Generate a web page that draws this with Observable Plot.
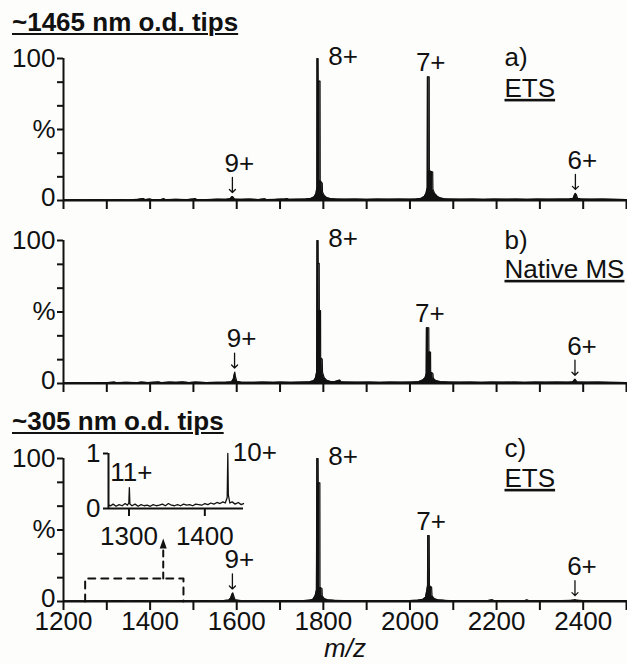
<!DOCTYPE html>
<html><head><meta charset="utf-8">
<script src="https://cdn.jsdelivr.net/npm/d3@7"></script>
<script src="https://cdn.jsdelivr.net/npm/@observablehq/plot@0.6"></script>
<style>
html,body{margin:0;padding:0;background:#fdfdfb;}
#fig{position:relative;width:627px;height:664px;overflow:hidden;font-family:"Liberation Sans",Arial,sans-serif;color:#111;}
.title{position:absolute;left:12px;font-weight:bold;font-size:26px;line-height:26px;text-decoration:underline;text-decoration-thickness:2px;text-underline-offset:2px;white-space:nowrap;}
</style></head><body><div id="fig"></div>
<script>
// ---------- data ----------
const titles = ["~1465 nm o.d. tips", "~305 nm o.d. tips"];
const tags = ["a)", "b)", "c)"];
const methods = ["ETS", "Native MS", "ETS"];
const xTicks = [1200,1300,1400,1500,1600,1700,1800,1900,2000,2100,2200,2300,2400,2500];
const xLabels = [1200,1400,1600,1800,2000,2200,2400];
const yTicks = [0,16.67,33.33,50,66.67,83.33,100];
const yTickLabels = ["0","","","%","","","100"];
const charges = ["9+","8+","7+","6+"];
const peakMzA = [1590,1786,2041,2382];
const peakHA  = [2.8,100,87,5];
const peakMzB = [1595,1786,2039,2381];
const peakHB  = [8,100,39,3];
const peakMzC = [1590,1786,2042,2381];
const peakHC  = [6,100,46,1.3];

const spectrumA = [[1200,0.4],[1225,0.6],[1250,0.5],[1275,0.7],[1300,0.5],[1325,0.6],[1350,0.5],[1372,0.8],[1385,1.4],[1388,0.6],[1400,1.1],[1404,0.6],[1425,0.7],[1432,1.3],[1436,0.6],[1460,0.8],[1485,0.6],[1500,1.1],[1504,1.3],[1508,0.7],[1530,0.6],[1555,0.9],[1575,0.8],[1585,1.3],[1588,2.4],[1590,2.8],[1592,2.2],[1595,1.0],[1610,0.8],[1630,1.0],[1650,0.7],[1665,1.2],[1668,0.7],[1690,0.8],[1712,1.1],[1716,1.4],[1720,0.8],[1740,0.9],[1760,1.1],[1772,1.6],[1779,2.6],[1783,5],[1785,9],[1785.3,100],[1788,100],[1788.3,84],[1792.4,84],[1792.8,14],[1797.6,12],[1798,6],[1802,3.5],[1808,2],[1816,1.4],[1830,1.0],[1850,0.9],[1875,1.0],[1900,0.8],[1925,1.0],[1950,0.9],[1975,1.0],[2000,0.9],[2015,1.1],[2026,1.6],[2033,2.8],[2037,5],[2039.8,9],[2040.3,87],[2044.5,87],[2044.8,21],[2052.5,20],[2053,8],[2057,5],[2063,3],[2070,1.8],[2080,1.2],[2095,1.0],[2120,0.9],[2145,1.0],[2170,0.8],[2195,1.0],[2220,0.9],[2245,1.0],[2270,0.8],[2295,1.0],[2320,0.9],[2345,1.0],[2368,1.1],[2377,1.6],[2380,4],[2382,5],[2384,4.2],[2387,1.6],[2395,1.0],[2420,0.9],[2445,1.0],[2470,0.8],[2500,0.7]];

const spectrumB = [[1200,0.4],[1225,0.6],[1250,0.5],[1275,0.7],[1300,0.6],[1318,1.0],[1322,0.6],[1345,0.8],[1370,0.6],[1380,1.0],[1395,0.7],[1420,1.1],[1425,0.6],[1445,1.0],[1460,0.8],[1475,1.1],[1490,0.7],[1505,1.0],[1530,0.7],[1555,0.8],[1575,0.9],[1588,1.2],[1592,3],[1594,6],[1595.5,8],[1597,5],[1600,1.5],[1610,0.9],[1635,0.8],[1660,1.0],[1685,0.8],[1700,1.0],[1725,0.8],[1750,1.0],[1768,1.2],[1778,2],[1782,4],[1784.5,8],[1785.3,100],[1788,100],[1788.3,84],[1790.5,84],[1790.8,51],[1793.5,51],[1793.8,18],[1797.5,17],[1798,8],[1802,4],[1808,2.2],[1815,1.5],[1825,1.2],[1838,2.4],[1841,1.2],[1855,1.0],[1880,0.9],[1905,1.0],[1930,0.8],[1955,1.0],[1980,0.9],[2005,1.0],[2020,1.3],[2030,2.5],[2035,4],[2037.5,7],[2038,39],[2043.5,39],[2043.8,22],[2047.5,22],[2047.8,8],[2053,7],[2054,3.5],[2060,2],[2070,1.3],[2090,1.0],[2115,0.9],[2140,1.0],[2165,0.8],[2190,1.0],[2215,0.9],[2240,1.0],[2265,0.8],[2290,1.0],[2315,0.9],[2340,1.0],[2365,0.9],[2376,1.2],[2379,2.2],[2381,3],[2383,2.2],[2386,1.0],[2410,0.9],[2435,1.0],[2460,0.8],[2500,0.7]];

const spectrumC = [[1200,0.4],[1225,0.5],[1250,0.4],[1275,0.6],[1300,0.5],[1325,0.6],[1350,0.5],[1375,0.6],[1400,0.5],[1425,0.7],[1450,0.5],[1475,0.6],[1500,0.5],[1525,0.6],[1550,0.5],[1570,0.7],[1582,1.0],[1586,2.5],[1589,5],[1591,6],[1593,4],[1596,1.2],[1610,0.6],[1635,0.5],[1660,0.6],[1685,0.5],[1710,0.6],[1735,0.6],[1755,0.7],[1768,0.9],[1776,1.6],[1781,4],[1784,8],[1785,100],[1788,100],[1788.3,83],[1792,83],[1792.3,10],[1797,9],[1797.5,4],[1802,2],[1810,1.2],[1825,0.8],[1850,0.7],[1875,0.6],[1900,0.7],[1925,0.6],[1950,0.7],[1975,0.6],[2000,0.7],[2018,0.9],[2030,1.5],[2036,3],[2039,8],[2040.5,11],[2041,46],[2044.5,46],[2045,11],[2050,10],[2051,4],[2056,2],[2064,1.2],[2080,0.8],[2105,0.6],[2130,0.7],[2155,0.6],[2180,0.7],[2190,1.2],[2194,0.7],[2215,0.6],[2240,0.7],[2265,0.6],[2270,1.1],[2274,0.6],[2300,0.7],[2325,0.6],[2350,0.7],[2372,0.8],[2378,1.0],[2381,1.3],[2384,0.9],[2400,0.6],[2425,0.7],[2450,0.6],[2475,0.7],[2500,0.6]];

// inset (panel c, m/z 1273-1451)
const insetDomain = [1273,1451];
const insetXTicks = [1300,1400];
const insetYTicks = [0,1];
const insetCharges = ["11+","10+"];
const insetPeakMz = [1300.5,1430.3];
const insetPeakH = [0.38,1.0];
const insetSpectrum = [[1273,0.06],[1276,0.05],[1279,0.08],[1283,0.04],[1287,0.07],[1291,0.05],[1295,0.09],[1298,0.06],[1299.8,0.1],[1300.5,0.38],[1301.2,0.08],[1304,0.05],[1308,0.08],[1312,0.04],[1316,0.07],[1320,0.05],[1324,0.06],[1328,0.04],[1332,0.07],[1336,0.05],[1340,0.06],[1344,0.08],[1348,0.05],[1352,0.09],[1356,0.06],[1360,0.05],[1364,0.07],[1368,0.05],[1372,0.08],[1376,0.06],[1380,0.07],[1384,0.05],[1388,0.08],[1392,0.07],[1396,0.06],[1400,0.09],[1404,0.07],[1408,0.1],[1412,0.08],[1416,0.11],[1420,0.09],[1424,0.12],[1427,0.1],[1429.5,0.2],[1430.3,1.0],[1431,0.25],[1433,0.1],[1436,0.12],[1440,0.08],[1444,0.11],[1448,0.07],[1451,0.09]];
// zoom window marker in panel c
const zoomWindow = [1250,1477];
const zoomBoxTop = 16;
const zoomArrow = [16,37];   // dashed shaft; the head continues above

// ---------- drawing ----------
const fig = document.getElementById("fig");
const INK = "#111";
const FS = 26;
const baseStyle = {fontFamily:"'Liberation Sans', Arial, sans-serif", fontSize: FS + "px", background:"transparent", color:INK, overflow:"visible"};
function place(el, top, left = 0) {
  el.style.position = "absolute"; el.style.top = top + "px"; el.style.left = left + "px";
  fig.appendChild(el);
}
function underline(svg, words) {
  svg.querySelectorAll("text").forEach(t => {
    if (words.includes(t.textContent.trim())) { t.setAttribute("text-decoration", "underline"); t.style.textDecoration = "underline"; }
  });
}
const headShape = {draw(ctx, l) { ctx.moveTo(-3.5, 0); ctx.lineTo(0, -l); ctx.lineTo(3.5, 0); ctx.closePath(); }};

function makePanel(p) {
  const spec = p.spectrum.map(([mz, v]) => ({mz, v}));
  const peaks = charges.map((c, i) => ({charge: c, mz: p.mz[i], h: p.h[i]}));
  const arrowPeaks = peaks.filter(d => d.charge === "9+" || d.charge === "6+");
  const rightPk = peaks.filter(d => d.charge === "8+");
  const abovePk = peaks.filter(d => d.charge === "7+");
  const marks = [
    Plot.areaY(spec, {x: "mz", y: "v", fill: INK}),
    Plot.line(spec, {x: "mz", y: "v", stroke: INK, strokeWidth: 1.2}),
    Plot.ruleY([0], {stroke: INK, strokeWidth: 2}),
    Plot.ruleX([1200], {stroke: INK, strokeWidth: 2}),
    Plot.axisX(xTicks, {tickSize: 9, tickPadding: 1, strokeWidth: 2, stroke: INK, label: null,
      tickFormat: p.labeled ? (d => xLabels.includes(d) ? String(d) : "") : (() => "")}),
    // ticks plus the "%" and "100" labels
    Plot.axisY(yTicks, {tickSize: 6, tickPadding: 2, strokeWidth: 2, stroke: INK, label: null,
      tickFormat: d => (d === 0 ? "" : yTickLabels[yTicks.indexOf(d)])}),
    // the "0" label sits a little above its tick
    Plot.axisY([yTicks[0]], {tickSize: 0, tickPadding: 8, dy: -3, label: null,
      tickFormat: d => yTickLabels[yTicks.indexOf(d)]}),
    Plot.text(rightPk, {x: "mz", y: "h", text: "charge", textAnchor: "start", dx: 11, dy: -2, fontSize: FS}),
    Plot.text(abovePk, {x: "mz", y: "h", text: "charge", dx: 3, dy: -14, fontSize: FS}),
    Plot.text(arrowPeaks, {x: "mz", y: "h", text: "charge", dx: 7, dy: -33, fontSize: FS}),
    Plot.vector(arrowPeaks, {x: "mz", y: "h", length: 15, rotate: 180, anchor: "end", dy: -4, stroke: INK, strokeWidth: 1.3}),
    Plot.text([p.tag], {text: d => d, frameAnchor: "top-left", textAnchor: "start", lineAnchor: "middle", dx: 441, dy: p.tagDy, fontSize: FS}),
    Plot.text([p.method], {text: d => d, frameAnchor: "top-left", textAnchor: "start", lineAnchor: "middle", dx: 441, dy: p.methodDy, fontSize: FS})
  ];
  if (p.extra) marks.push(...p.extra);
  const svg = Plot.plot({
    width: 627, height: p.mt + p.inner + p.mb,
    marginLeft: 63, marginRight: 1, marginTop: p.mt, marginBottom: p.mb,
    x: {domain: [1200, 2500]}, y: {domain: [0, 100]},
    style: baseStyle,
    marks
  });
  underline(svg, methods);
  place(svg, p.top);
}

// titles
const t1 = document.createElement("div"); t1.className = "title"; t1.textContent = titles[0]; t1.style.top = "9px"; fig.appendChild(t1);
const t2 = document.createElement("div"); t2.className = "title"; t2.textContent = titles[1]; t2.style.top = "408px"; fig.appendChild(t2);

makePanel({spectrum: spectrumA, mz: peakMzA, h: peakHA, tag: tags[0], method: methods[0],
  top: 30, mt: 28, inner: 142, mb: 20, labeled: false, tagDy: -1, methodDy: 30});
makePanel({spectrum: spectrumB, mz: peakMzB, h: peakHB, tag: tags[1], method: methods[1],
  top: 215, mt: 25, inner: 143, mb: 17, labeled: false, tagDy: 0, methodDy: 29});

const boxPts = [[zoomWindow[0],0],[zoomWindow[0],zoomBoxTop],[zoomWindow[1],zoomBoxTop],[zoomWindow[1],0]].map(([mz,v]) => ({mz, v}));
const arrowX = insetPeakMz[1];
makePanel({spectrum: spectrumC, mz: peakMzC, h: peakHC, tag: tags[2], method: methods[2],
  top: 436, mt: 22, inner: 143, mb: 63, labeled: true, tagDy: -10, methodDy: 20,
  extra: [
    Plot.line(boxPts, {x: "mz", y: "v", stroke: INK, strokeWidth: 2, strokeDasharray: "7,6"}),
    Plot.line(zoomArrow.map(v => ({mz: arrowX, v})), {x: "mz", y: "v", stroke: INK, strokeWidth: 2, strokeDasharray: "6,5"}),
    Plot.vector([{mz: arrowX, v: zoomArrow[1]}], {x: "mz", y: "v", length: 10, rotate: 0, anchor: "start", shape: headShape, fill: INK, stroke: "none"}),
    Plot.text(["m/z"], {text: d => d, frameAnchor: "bottom", lineAnchor: "middle", dy: 47, fontStyle: "italic", fontSize: FS})
  ]});

// inset
{
  const spec = insetSpectrum.map(([mz, v]) => ({mz, v}));
  const pk = insetCharges.map((c, i) => ({charge: c, mz: insetPeakMz[i], h: insetPeakH[i]}));
  const svg = Plot.plot({
    width: 290, height: 123, marginLeft: 108, marginRight: 47, marginTop: 23, marginBottom: 45,
    x: {domain: insetDomain}, y: {domain: [0, 1]},
    style: baseStyle,
    marks: [
      Plot.line(spec, {x: "mz", y: "v", stroke: INK, strokeWidth: 1.3}),
      Plot.ruleY([0], {stroke: INK, strokeWidth: 2}),
      Plot.ruleX([insetDomain[0]], {stroke: INK, strokeWidth: 2}),
      Plot.axisX(insetXTicks, {tickSize: 8, tickPadding: 10, strokeWidth: 2, stroke: INK, label: null, tickFormat: d => String(d)}),
      Plot.axisY(insetYTicks, {tickSize: 5, tickPadding: 3, strokeWidth: 2, stroke: INK, label: null, tickFormat: d => String(d)}),
      Plot.text(pk.filter(d => d.charge === "11+"), {x: "mz", y: "h", text: "charge", dx: 2, dy: -15, fontSize: FS}),
      Plot.text(pk.filter(d => d.charge === "10+"), {x: "mz", y: "h", text: "charge", textAnchor: "start", dx: 5, dy: -1, fontSize: FS})
    ]
  });
  place(svg, 430);
}
</script></body></html>
